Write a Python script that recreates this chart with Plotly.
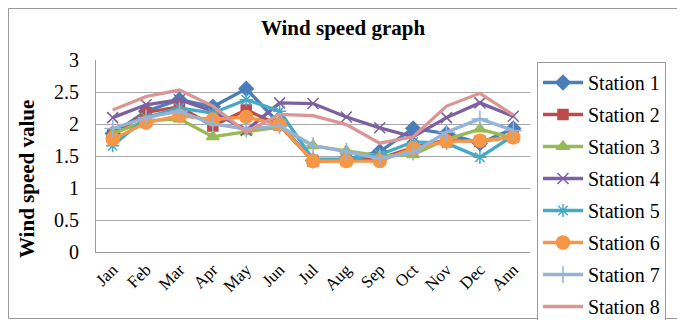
import plotly.graph_objects as go

months = ["Jan", "Feb", "Mar", "Apr", "May", "Jun", "Jul", "Aug", "Sep", "Oct", "Nov", "Dec", "Ann"]

station1 = [1.85, 2.20, 2.38, 2.27, 2.55, 2.00, 1.43, 1.45, 1.57, 1.93, 1.85, 1.70, 1.93]
station2 = [1.83, 2.18, 2.27, 1.97, 2.22, 1.98, 1.42, 1.43, 1.46, 1.63, 1.75, 1.73, 1.80]
station3 = [1.85, 2.05, 2.08, 1.80, 1.88, 1.95, 1.66, 1.58, 1.50, 1.52, 1.76, 1.92, 1.78]
station4 = [2.10, 2.30, 2.38, 2.20, 1.90, 2.33, 2.32, 2.11, 1.94, 1.80, 2.10, 2.33, 2.12]
station5 = [1.66, 2.10, 2.25, 2.17, 2.38, 2.20, 1.45, 1.45, 1.52, 1.72, 1.70, 1.48, 1.82]
station6 = [1.76, 2.02, 2.13, 2.07, 2.11, 1.99, 1.42, 1.42, 1.42, 1.62, 1.73, 1.74, 1.79]
station7 = [1.93, 2.10, 2.20, 2.00, 1.92, 1.97, 1.66, 1.57, 1.46, 1.56, 1.87, 2.08, 1.90]
station8 = [2.22, 2.43, 2.53, 2.28, 1.87, 2.15, 2.13, 1.99, 1.70, 1.80, 2.28, 2.48, 2.14]

names = ["Station 1", "Station 2", "Station 3", "Station 4",
         "Station 5", "Station 6", "Station 7", "Station 8"]
series = [station1, station2, station3, station4, station5, station6, station7, station8]
colors = ["#4A7EBB", "#BE4B48", "#98B954", "#7D60A0", "#46AAC5", "#F79646", "#95B3D7", "#D99694"]
symbols = ["diamond", "square", "triangle-up", "x-thin-open", "asterisk-open",
           "circle", "cross-thin-open", None]
sizes = [11, 10, 11, 11, 11, 13, 12, 0]

SERIF = "Liberation Serif"

fig = go.Figure()
for i, (nm, vals) in enumerate(zip(names, series)):
    sym = symbols[i]
    if sym is None:
        mode = "lines"
        marker = None
    else:
        mode = "lines+markers"
        marker = dict(symbol=sym, size=sizes[i], color=colors[i],
                      line=dict(color=colors[i], width=1.5))
    fig.add_trace(go.Scatter(
        x=months, y=vals, name=nm, mode=mode,
        line=dict(color=colors[i], width=3.3),
        marker=marker, legendgroup=nm,
    ))

# page has an 8px body margin; figure is sized to fit the 685x320 window
OFF = 8
W, H = 685 - OFF, 320 - OFF
L, T = 96 - OFF, 60 - OFF
R, B = W - (530 - OFF), H - (252 - OFF)
pw, ph = W - L - R, H - T - B

fig.update_layout(
    width=W, height=H,
    margin=dict(l=L, r=R, t=T, b=B, autoexpand=False),
    paper_bgcolor="white", plot_bgcolor="white",
    font=dict(family=SERIF, color="black", size=16),
    title=dict(text="<b>Wind speed graph</b>", x=(343 - 96) / pw, xanchor="center",
               xref="paper", y=1 - (28 - OFF) / H, yanchor="middle",
               font=dict(size=21, family=SERIF, color="black")),
    xaxis=dict(
        type="category", tickangle=-45, showgrid=False, showline=True,
        linecolor="#9a9a9a", linewidth=1, tickfont=dict(size=17, family=SERIF),
        range=[-0.5, 12.5], ticks="", automargin=False,
    ),
    yaxis=dict(
        range=[0, 3], dtick=0.5, showgrid=True, gridcolor="#a6a6a6", gridwidth=1,
        showline=True, linecolor="#9a9a9a", linewidth=1, zeroline=False,
        tickfont=dict(size=20, family=SERIF), ticks="", automargin=False,
        ticklabelstandoff=12,
    ),
    annotations=[dict(
        text="<b>Wind speed value</b>", textangle=-90, showarrow=False,
        xref="paper", yref="paper", x=(27 - 96) / pw, y=(252 - 179) / ph,
        xanchor="center", yanchor="middle",
        font=dict(size=21, family=SERIF, color="black"),
    )],
    legend=dict(
        x=1 + 7 / pw, xanchor="left", yref="container", y=1 - (62 - OFF) / H, yanchor="top",
        bordercolor="#9a9a9a", borderwidth=1, bgcolor="white",
        font=dict(size=20, family=SERIF), tracegroupgap=3, itemwidth=40,
        maxheight=1.0,
    ),
    shapes=[dict(type="rect", xref="paper", yref="paper",
                 x0=-(L - 0.5) / pw, x1=1 + (R - 1.5) / pw,
                 y0=-(B - 1.5) / ph, y1=1 + (T - 0.5) / ph,
                 line=dict(color="#9a9a9a", width=1))],
)

fig.write_html("out.html")
